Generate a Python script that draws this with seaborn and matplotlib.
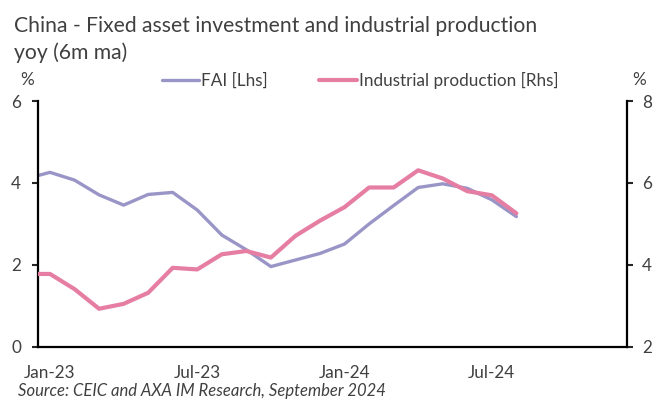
import pandas as pd
import matplotlib.pyplot as plt
import seaborn as sns

# data (Dec-22 point only shows as the clipped start of the lines)
months = ['Dec-22', 'Jan-23', 'Feb-23', 'Mar-23', 'Apr-23', 'May-23', 'Jun-23',
          'Jul-23', 'Aug-23', 'Sep-23', 'Oct-23', 'Nov-23', 'Dec-23',
          'Jan-24', 'Feb-24', 'Mar-24', 'Apr-24', 'May-24', 'Jun-24',
          'Jul-24', 'Aug-24']
fai = [4.10, 4.26, 4.07, 3.71, 3.46, 3.72, 3.77, 3.34, 2.73, 2.37, 1.96,
       2.12, 2.28, 2.51, 3.00, 3.45, 3.89, 3.98, 3.87, 3.59, 3.18]
ip = [3.78, 3.78, 3.41, 2.93, 3.05, 3.32, 3.93, 3.89, 4.26, 4.34, 4.18,
      4.71, 5.08, 5.41, 5.89, 5.89, 6.31, 6.11, 5.80, 5.70, 5.26]
tick_labels = ['Jan-23', 'Jul-23', 'Jan-24', 'Jul-24']

df = pd.DataFrame({'month': months, 'FAI': fai, 'IP': ip})
df['pos'] = range(len(df))
df['pos'] = df['pos'] - 0.5  # category centres, Jan-23 sits at 0.5

sns.set_style('white')
plt.rcParams['font.family'] = ['Lato', 'DejaVu Sans']

fai_col = '#9a95c7'
ip_col = '#e57ea2'
txt_col = '#404040'
fs = 12.3

fig = plt.figure(figsize=(6.56, 4.01), dpi=100)
ax = fig.add_axes([0.0575, 0.135, 0.898, 0.613])
ax2 = ax.twinx()

sns.lineplot(data=df, x='pos', y='FAI', ax=ax, color=fai_col, linewidth=2.4,
             label='FAI [Lhs]', legend=False)
sns.lineplot(data=df, x='pos', y='IP', ax=ax2, color=ip_col, linewidth=3.0,
             label='Industrial production [Rhs]', legend=False)

ax.set_xlim(0, 24)
ax.set_ylim(0, 6)
ax2.set_ylim(2, 8)
ax.set_yticks([0, 2, 4, 6])
ax2.set_yticks([2, 4, 6, 8])

# labels at category centres, small inward ticks on the month boundaries
ax.set_xticks([0.5, 6.5, 12.5, 18.5])
ax.set_xticklabels(tick_labels)
ax.set_xticks(range(0, 25), minor=True)
ax.tick_params(axis='x', which='major', length=0, pad=13, labelsize=fs, labelcolor=txt_col)
ax.tick_params(axis='x', which='minor', direction='in', length=3, width=1.5, color='black')
ax.tick_params(axis='y', direction='out', length=4, width=1.5, labelsize=fs,
               labelcolor=txt_col, pad=8)
ax2.tick_params(axis='y', direction='out', length=4, width=1.5, labelsize=fs,
                labelcolor=txt_col, pad=7)

for a in (ax, ax2):
    a.set_xlabel('')
    a.set_ylabel('')
    a.spines['top'].set_visible(False)
    for s in ('left', 'right', 'bottom'):
        a.spines[s].set_linewidth(1.6)
        a.spines[s].set_color('black')
ax.spines['right'].set_visible(False)
ax2.spines['left'].set_visible(False)
ax2.spines['bottom'].set_visible(False)

h1, l1 = ax.get_legend_handles_labels()
h2, l2 = ax2.get_legend_handles_labels()
fig.legend(h1 + h2, l1 + l2, loc='center', bbox_to_anchor=(0.549, 0.80), ncol=2,
           frameon=False, fontsize=fs, handlelength=2.2, handletextpad=0.12,
           columnspacing=3.0, labelcolor=txt_col)

fig.text(0.021, 0.96, 'China - Fixed asset investment and industrial production\nyoy (6m ma)',
         ha='left', va='top', fontsize=15.2, color=txt_col, linespacing=1.38)
fig.text(0.041, 0.80, '%', ha='center', va='center', fontsize=fs, color=txt_col)
fig.text(0.975, 0.80, '%', ha='center', va='center', fontsize=fs, color=txt_col)
fig.text(0.027, 0.006, 'Source: CEIC and AXA IM Research, September 2024',
         ha='left', va='bottom', fontsize=12, style='italic', color=txt_col)

fig.savefig('out.png', dpi=100)
